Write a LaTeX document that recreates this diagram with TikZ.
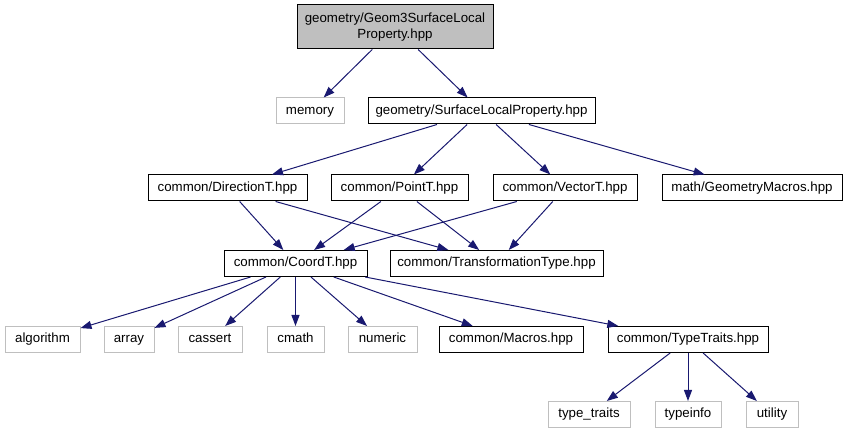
\documentclass[tikz,border=0pt]{standalone}
\usepackage{fontspec}
\setmainfont{Liberation Sans}
\usetikzlibrary{arrows.meta}
\definecolor{edgeblue}{HTML}{191970}
\definecolor{extgray}{HTML}{BFBFBF}
\definecolor{topfill}{HTML}{BFBFBF}
\tikzset{
  basebox/.style={draw=black, line width=1pt, rectangle, inner sep=1pt, align=center,
    font=\fontsize{13.3}{15.5}\selectfont},
  box/.style={basebox, minimum height=26pt, text height=9.6pt, text depth=2.8pt},
  ext/.style={box, draw=extgray},
  topbox/.style={basebox, fill=topfill},
  dep/.style={draw=edgeblue, line width=1pt, -{Triangle[length=11pt,width=8pt]}}
}
\begin{document}
\begin{tikzpicture}[x=1pt,y=-1pt]
\useasboundingbox (0,0) rectangle (847,435);
% row 1
\node[topbox, minimum width=196pt, minimum height=44pt] (top) at (395,27) {geometry/Geom3SurfaceLocal\\Property.hpp};
% row 2
\node[ext, minimum width=68pt] (memory) at (310,111) {memory};
\node[box, minimum width=227pt] (slp) at (481.5,111) {geometry/SurfaceLocalProperty.hpp};
% row 3
\node[box, minimum width=159pt] (dir) at (227.5,188) {common/DirectionT.hpp};
\node[box, minimum width=137pt] (pt) at (399.5,188) {common/PointT.hpp};
\node[box, minimum width=144pt] (vec) at (565,188) {common/VectorT.hpp};
\node[box, minimum width=180pt] (gm) at (752,188) {math/GeometryMacros.hpp};
% row 4
\node[box, minimum width=143pt] (coord) at (295.5,263.5) {common/CoordT.hpp};
\node[box, minimum width=213pt] (tt) at (496.5,263.5) {common/TransformationType.hpp};
% row 5
\node[ext, minimum width=75pt] (alg) at (42.5,339.5) {algorithm};
\node[ext, minimum width=50pt] (arr) at (129,339.5) {array};
\node[ext, minimum width=64pt] (cas) at (210,339.5) {cassert};
\node[ext, minimum width=57pt] (cm) at (295.5,339.5) {cmath};
\node[ext, minimum width=69pt] (num) at (382.5,339.5) {numeric};
\node[box, minimum width=144pt] (mac) at (511,339.5) {common/Macros.hpp};
\node[box, minimum width=160pt] (trt) at (688,339.5) {common/TypeTraits.hpp};
% row 6
\node[ext, minimum width=82pt] (tyt) at (589,414.5) {type\_traits};
\node[ext, minimum width=66pt] (tyi) at (688,414.5) {typeinfo};
\node[ext, minimum width=52pt] (uti) at (772,414.5) {utility};
% edges
\draw[dep] (top) -- (memory);
\draw[dep] (top) -- (slp);
\draw[dep] (slp) -- (dir);
\draw[dep] (slp) -- (pt);
\draw[dep] (slp) -- (vec);
\draw[dep] (slp) -- (gm);
\draw[dep] (dir) -- (coord);
\draw[dep] (dir) -- (tt);
\draw[dep] (pt) -- (coord);
\draw[dep] (pt) -- (tt);
\draw[dep] (vec) -- (coord);
\draw[dep] (vec) -- (tt);
\draw[dep] (coord) -- (alg);
\draw[dep] (coord) -- (arr);
\draw[dep] (coord) -- (cas);
\draw[dep] (coord) -- (cm);
\draw[dep] (coord) -- (num);
\draw[dep] (coord) -- (mac);
\draw[dep] (coord) -- (trt);
\draw[dep] (trt) -- (tyt);
\draw[dep] (trt) -- (tyi);
\draw[dep] (trt) -- (uti);
\end{tikzpicture}
\end{document}
